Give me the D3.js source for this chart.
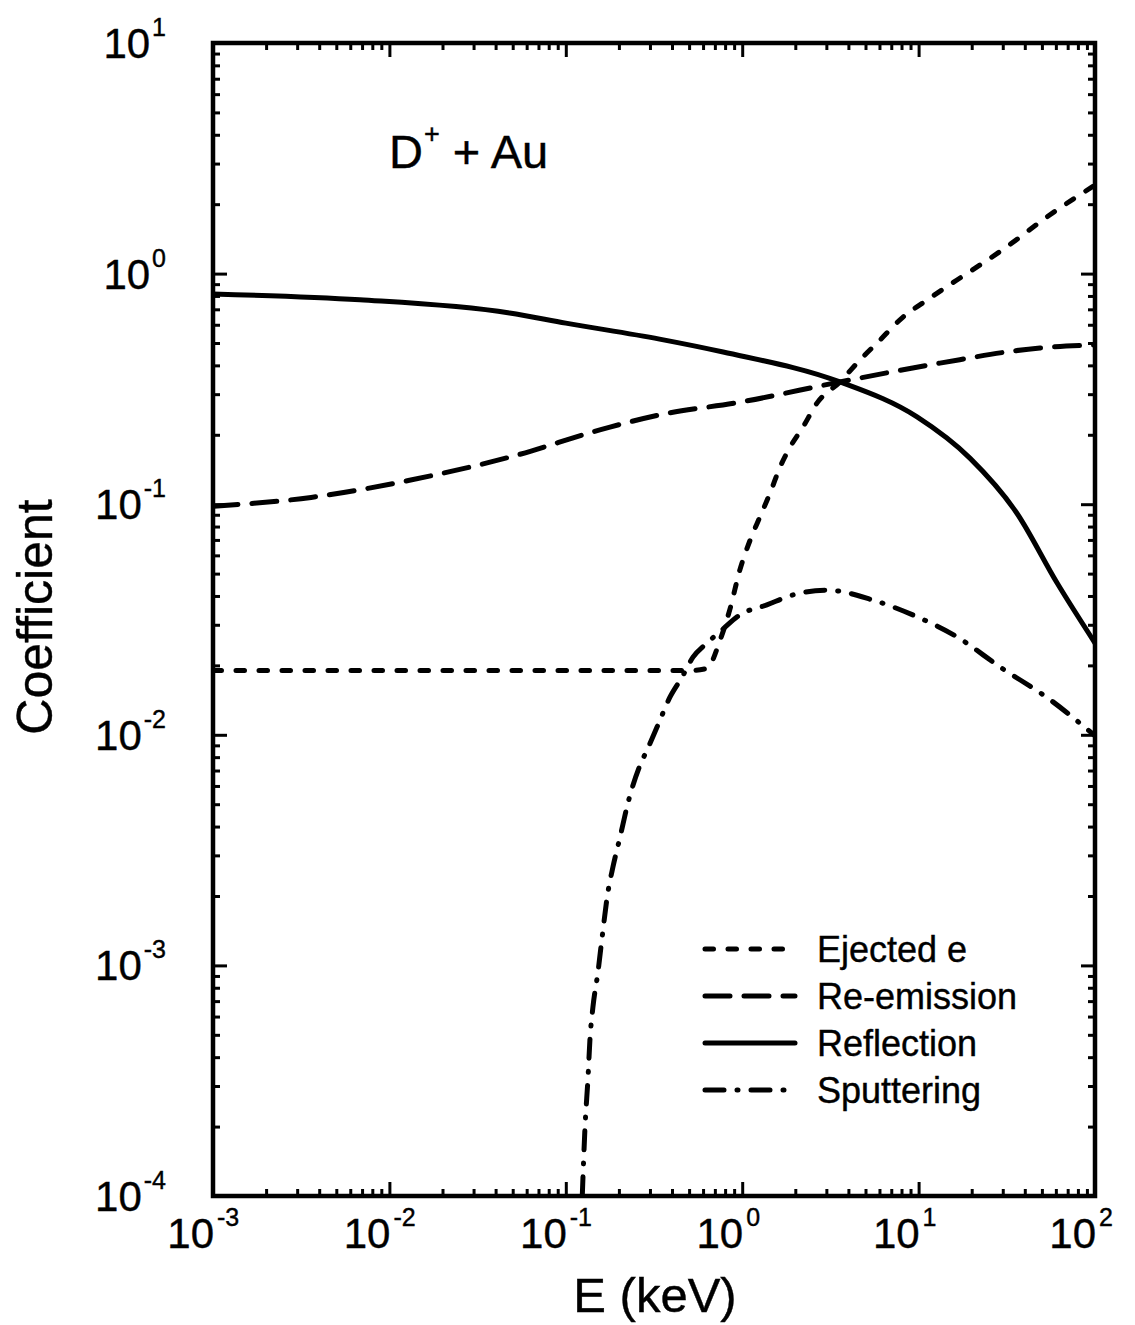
<!DOCTYPE html>
<html>
<head>
<meta charset="utf-8">
<script src="https://cdn.jsdelivr.net/npm/d3@7"></script>
<style>
  html, body { margin: 0; padding: 0; background: #fff; }
  svg { display: block; }
  text { font-family: "Liberation Sans", Arial, Helvetica, sans-serif; fill: #000; stroke: #000; stroke-width: 0.4px; }
</style>
</head>
<body>
<svg id="chart" width="1135" height="1325"></svg>
<script>
// ---------------- data ----------------
const ejectedE   = [0.001, 0.01, 0.1, 0.5, 0.63, 0.75, 0.85, 0.97, 1.11, 1.26, 1.44, 1.64, 1.87, 2.21, 2.66, 3.58, 4.65, 6.04, 8.16, 11.2, 16.5, 22.3, 30, 55.6, 100];
const ejectedY   = [0.019, 0.019, 0.019, 0.019, 0.0194, 0.0258, 0.0348, 0.0519, 0.070, 0.088, 0.112, 0.145, 0.177, 0.216, 0.275, 0.339, 0.422, 0.515, 0.648, 0.769, 0.938, 1.09, 1.27, 1.80, 2.42];

const reemissionE = [0.001, 0.0036, 0.013, 0.048, 0.178, 0.34, 0.97, 3.58, 13.2, 48.8, 100];
const reemissionY = [0.098, 0.107, 0.127, 0.160, 0.216, 0.244, 0.277, 0.339, 0.409, 0.476, 0.49];

const reflectionE = [0.001, 0.0068, 0.048, 0.1, 0.34, 0.78, 3.58, 9.8, 19.6, 36, 61, 100];
const reflectionY = [0.816, 0.77, 0.675, 0.61, 0.52, 0.457, 0.339, 0.239, 0.158, 0.0916, 0.0455, 0.025];

const sputterE = [0.124, 0.1285, 0.1337, 0.137, 0.1425, 0.152, 0.160, 0.173, 0.185, 0.203, 0.225, 0.264, 0.289, 0.329, 0.39, 0.456, 0.526, 0.631, 0.768, 0.97, 1.38, 1.94, 3.03, 5.5, 9.8, 16.5, 28.9, 55.6, 100];
const sputterY = [1e-4, 1.99e-4, 3.28e-4, 4.75e-4, 6.6e-4, 9.3e-4, 1.29e-3, 2.06e-3, 2.67e-3, 3.6e-3, 5.06e-3, 7.4e-3, 8.6e-3, 0.0108, 0.0146, 0.0178, 0.0217, 0.025, 0.0285, 0.0331, 0.0366, 0.0404, 0.0424, 0.0384, 0.0325, 0.0266, 0.0197, 0.0142, 0.0099];

const seriesNames = ["Ejected e", "Re-emission", "Reflection", "Sputtering"];

const xTickExponents = [-3, -2, -1, 0, 1, 2];
const yTickExponents = [-4, -3, -2, -1, 0, 1];
const minorMultipliers = [2, 3, 4, 5, 6, 7, 8, 9];

const xTitle = "E (keV)";
const yTitle = "Coefficient";
const annotation = { base: "D", sup: "+", rest: " + Au" };

// ---------------- layout ----------------
const L = 213, R = 1095, T = 43, B = 1196;
const svg = d3.select("#chart");

const x = d3.scaleLog().domain([1e-3, 1e2]).range([L, R]);
const y = d3.scaleLog().domain([1e-4, 1e1]).range([B, T]);

const xMajor = xTickExponents.map(e => Math.pow(10, e));
const yMajor = yTickExponents.map(e => Math.pow(10, e));
const minorOf = majors => majors.slice(0, -1).flatMap(d => minorMultipliers.map(m => m * d));
const xMinor = minorOf(xMajor);
const yMinor = minorOf(yMajor);

// ---------------- ticks (inward on all four sides) ----------------
function styleAxis(g) {
  g.select(".domain").remove();
  g.selectAll(".tick line").attr("stroke", "#000").attr("stroke-width", 3);
  g.selectAll(".tick text").remove();
}
const MAJ = 14, MIN = 7;
[[xMajor, MAJ], [xMinor, MIN]].forEach(([vals, len]) => {
  svg.append("g").attr("transform", `translate(0,${B})`)
    .call(d3.axisBottom(x).tickValues(vals).tickSizeInner(-len).tickSizeOuter(0).tickFormat(""))
    .call(styleAxis);
  svg.append("g").attr("transform", `translate(0,${T})`)
    .call(d3.axisTop(x).tickValues(vals).tickSizeInner(-len).tickSizeOuter(0).tickFormat(""))
    .call(styleAxis);
});
[[yMajor, MAJ], [yMinor, MIN]].forEach(([vals, len]) => {
  svg.append("g").attr("transform", `translate(${L},0)`)
    .call(d3.axisLeft(y).tickValues(vals).tickSizeInner(-len).tickSizeOuter(0).tickFormat(""))
    .call(styleAxis);
  svg.append("g").attr("transform", `translate(${R},0)`)
    .call(d3.axisRight(y).tickValues(vals).tickSizeInner(-len).tickSizeOuter(0).tickFormat(""))
    .call(styleAxis);
});

// frame
svg.append("rect")
  .attr("x", L).attr("y", T).attr("width", R - L).attr("height", B - T)
  .attr("fill", "none").attr("stroke", "#000").attr("stroke-width", 4.5);

// ---------------- tick labels ----------------
const LAB = 42, SUP = 25, SUPDY = -22;
const minus = "-";
xTickExponents.forEach(e => {
  const t = svg.append("text").attr("y", 1248).attr("font-size", LAB);
  const base = t.append("tspan").text("10");
  t.append("tspan").attr("font-size", SUP).attr("dy", SUPDY).attr("dx", 3).text(e < 0 ? minus + Math.abs(e) : String(e));
  const w = base.node().getComputedTextLength();
  t.attr("x", x(Math.pow(10, e)) - w + 1);
});
yTickExponents.forEach(e => {
  const t = svg.append("text").attr("x", 166).attr("y", y(Math.pow(10, e)) + 15)
    .attr("font-size", LAB).attr("text-anchor", "end");
  t.append("tspan").text("10");
  t.append("tspan").attr("font-size", SUP).attr("dy", SUPDY).attr("dx", 2).text(e < 0 ? minus + Math.abs(e) : String(e));
});

// axis titles
svg.append("text").attr("x", 655).attr("y", 1312).attr("text-anchor", "middle")
  .attr("font-size", 49).text(xTitle);
svg.append("text").attr("transform", "translate(52,617) rotate(-90)").attr("text-anchor", "middle")
  .attr("font-size", 50).text(yTitle);

// annotation D+ + Au
const ann = svg.append("text").attr("x", 389).attr("y", 168).attr("font-size", 47);
ann.append("tspan").text(annotation.base);
ann.append("tspan").attr("font-size", 27).attr("dy", -25).attr("dx", 1).text(annotation.sup);
ann.append("tspan").attr("dy", 25).text(annotation.rest);

// ---------------- curves ----------------
svg.append("clipPath").attr("id", "plotclip")
  .append("rect").attr("x", L).attr("y", T).attr("width", R - L).attr("height", B - T);

const line = d3.line().x(d => x(d[0])).y(d => y(d[1])).curve(d3.curveMonotoneX);
const zip = (a, b) => a.map((v, i) => [v, b[i]]);

const dashes = {
  "Ejected e": "8.5,14.5",
  "Re-emission": "25,14",
  "Reflection": null,
  "Sputtering": "19,13,1,13"
};
const seriesData = {
  "Ejected e": zip(ejectedE, ejectedY),
  "Re-emission": zip(reemissionE, reemissionY),
  "Reflection": zip(reflectionE, reflectionY),
  "Sputtering": zip(sputterE, sputterY)
};
const SW = 5;
const gCurves = svg.append("g").attr("clip-path", "url(#plotclip)");
seriesNames.forEach(name => {
  gCurves.append("path")
    .datum(seriesData[name])
    .attr("d", line)
    .attr("fill", "none")
    .attr("stroke", "#000")
    .attr("stroke-width", SW)
    .attr("stroke-linecap", "round")
    .attr("stroke-linejoin", "round")
    .attr("stroke-dasharray", dashes[name]);
});

// ---------------- legend ----------------
const legY = [949, 996, 1043, 1090];
seriesNames.forEach((name, i) => {
  svg.append("line")
    .attr("x1", 705).attr("x2", 795).attr("y1", legY[i]).attr("y2", legY[i])
    .attr("stroke", "#000").attr("stroke-width", SW)
    .attr("stroke-linecap", "round")
    .attr("stroke-dasharray", dashes[name]);
  svg.append("text").attr("x", 817).attr("y", legY[i] + 13)
    .attr("font-size", 36).text(name);
});
</script>
</body>
</html>
